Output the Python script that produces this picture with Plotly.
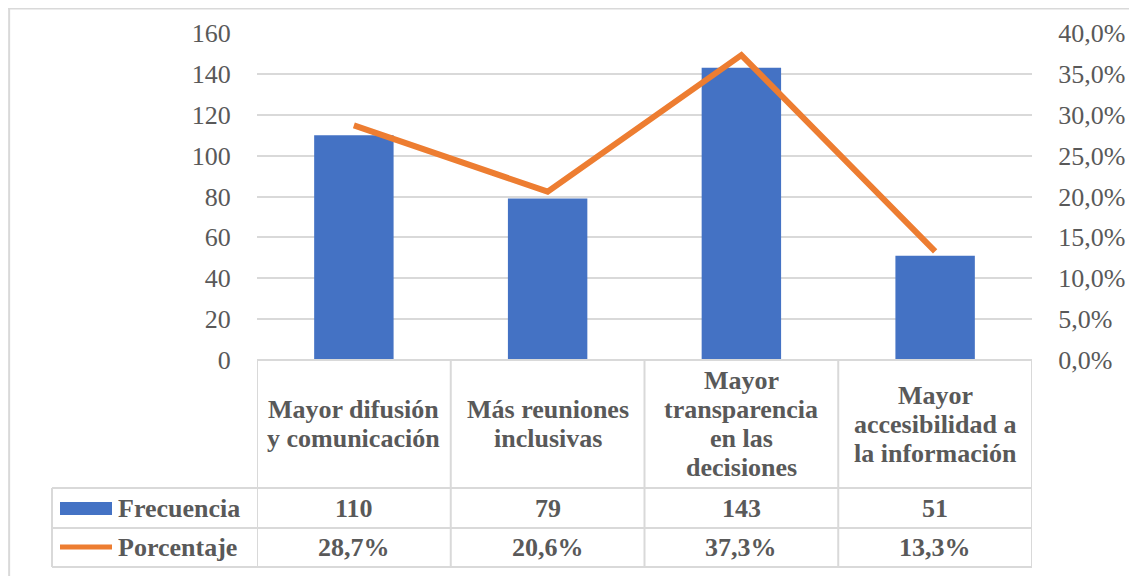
import plotly.graph_objects as go

# ---- data ----
categories = [
    "Mayor difusión<br>y comunicación",
    "Más reuniones<br>inclusivas",
    "Mayor<br>transparencia<br>en las<br>decisiones",
    "Mayor<br>accesibilidad a<br>la información",
]
frecuencia = [110, 79, 143, 51]
porcentaje = [0.287, 0.206, 0.373, 0.133]
series_names = ["Frecuencia", "Porcentaje"]
left_ticks = [0, 20, 40, 60, 80, 100, 120, 140, 160]

# ---- layout helpers ----
W, H = 1137, 576          # window size
OFF = 8                   # page body margin
FW, FH = W - OFF, H - OFF # figure size
FONT = "Liberation Serif"
GREY = "#595959"
GRID = "#D9D9D9"
BLUE = "#4472C4"
ORANGE = "#ED7D31"


def px(x):
    return (x - OFF) / FW


def py(y):
    return 1 - (y - OFF) / FH


PLOT_L, PLOT_R = 257, 1032
PLOT_T, PLOT_B = 33, 360
ROW_CAT_B = 488
ROW_F_B = 528
ROW_P_B = 567
LEG_L = 52

x_idx = list(range(len(categories)))

fig = go.Figure()
fig.add_trace(go.Bar(
    x=x_idx, y=frecuencia, width=0.41, name=series_names[0],
    marker=dict(color=BLUE, line=dict(width=0)), showlegend=False,
))
fig.add_trace(go.Scatter(
    x=x_idx, y=porcentaje, yaxis="y2", mode="lines", name=series_names[1],
    line=dict(color=ORANGE, width=6), showlegend=False,
))

shapes = []
line_style = dict(color=GRID, width=2)
# outer frame (left and top edges visible)
shapes.append(dict(type="line", xref="paper", yref="paper",
                   x0=0.001, x1=0.001, y0=0, y1=1, line=dict(color=GRID, width=2)))
shapes.append(dict(type="line", xref="paper", yref="paper",
                   x0=0, x1=1, y0=0.999, y1=0.999, line=dict(color=GRID, width=2)))
# table horizontal lines
shapes.append(dict(type="line", xref="paper", yref="paper",
                   x0=px(PLOT_L), x1=px(PLOT_R), y0=py(PLOT_B), y1=py(PLOT_B), line=line_style))
for yy in (ROW_CAT_B, ROW_F_B, ROW_P_B):
    shapes.append(dict(type="line", xref="paper", yref="paper",
                       x0=px(LEG_L), x1=px(PLOT_R), y0=py(yy), y1=py(yy), line=line_style))
# table vertical lines
shapes.append(dict(type="line", xref="paper", yref="paper",
                   x0=px(LEG_L), x1=px(LEG_L), y0=py(ROW_CAT_B), y1=py(ROW_P_B), line=line_style))
for i in range(len(categories) + 1):
    shapes.append(dict(type="line", xref="x", yref="paper",
                       x0=i - 0.5, x1=i - 0.5, y0=py(PLOT_B), y1=py(ROW_P_B), line=line_style))
# legend keys in table
shapes.append(dict(type="rect", xref="paper", yref="paper",
                   x0=px(60), x1=px(112), y0=py(502), y1=py(515),
                   line=dict(width=0), fillcolor=BLUE))
shapes.append(dict(type="line", xref="paper", yref="paper",
                   x0=px(60), x1=px(112), y0=py(547), y1=py(547),
                   line=dict(color=ORANGE, width=5)))

annotations = []
bold = dict(family=FONT, size=26, color=GREY, weight="bold")
cat_mid = (PLOT_B + ROW_CAT_B) / 2
LINE_H = 29
for i, cat in enumerate(categories):
    parts = cat.split("<br>")
    n = len(parts)
    for j, part in enumerate(parts):
        yy = cat_mid + (j - (n - 1) / 2) * LINE_H
        annotations.append(dict(x=i, xref="x", y=py(yy), yref="paper", text=part,
                                showarrow=False, xanchor="center", yanchor="middle", font=bold))
f_mid = (ROW_CAT_B + ROW_F_B) / 2
p_mid = (ROW_F_B + ROW_P_B) / 2
for i, (f, p) in enumerate(zip(frecuencia, porcentaje)):
    annotations.append(dict(x=i, xref="x", y=py(f_mid), yref="paper", text=str(f),
                            showarrow=False, xanchor="center", yanchor="middle", font=bold))
    ptxt = f"{p * 100:.1f}%".replace(".", ",")
    annotations.append(dict(x=i, xref="x", y=py(p_mid), yref="paper", text=ptxt,
                            showarrow=False, xanchor="center", yanchor="middle", font=bold))
annotations.append(dict(x=px(116), xref="paper", y=py(f_mid), yref="paper", text=series_names[0],
                        showarrow=False, xanchor="left", yanchor="middle", font=bold))
annotations.append(dict(x=px(116), xref="paper", y=py(p_mid), yref="paper", text=series_names[1],
                        showarrow=False, xanchor="left", yanchor="middle", font=bold))

tickfont = dict(family=FONT, size=26, color=GREY)
fig.update_layout(
    width=FW, height=FH,
    margin=dict(l=0, r=0, t=0, b=0, pad=0, autoexpand=False),
    paper_bgcolor="white", plot_bgcolor="white",
    separators=",.",
    showlegend=False,
    xaxis=dict(domain=[px(PLOT_L), px(PLOT_R)], range=[-0.5, len(categories) - 0.5],
               showticklabels=False, showgrid=False, zeroline=False, showline=False, ticks="",
               automargin=False),
    yaxis=dict(domain=[py(PLOT_B), py(PLOT_T)], range=[0, 160], tickvals=left_ticks,
               showgrid=True, gridcolor=GRID, gridwidth=2, zeroline=False, showline=False,
               ticks="outside", ticklen=20, tickcolor="rgba(0,0,0,0)", tickfont=tickfont,
               automargin=False),
    yaxis2=dict(overlaying="y", side="right", range=[0, 0.4], dtick=0.05, tickformat=".1%",
                showgrid=False, zeroline=False, showline=False,
                ticks="outside", ticklen=20, tickcolor="rgba(0,0,0,0)", tickfont=tickfont,
                automargin=False),
    shapes=shapes,
    annotations=annotations,
)

fig.write_html("out.html")
